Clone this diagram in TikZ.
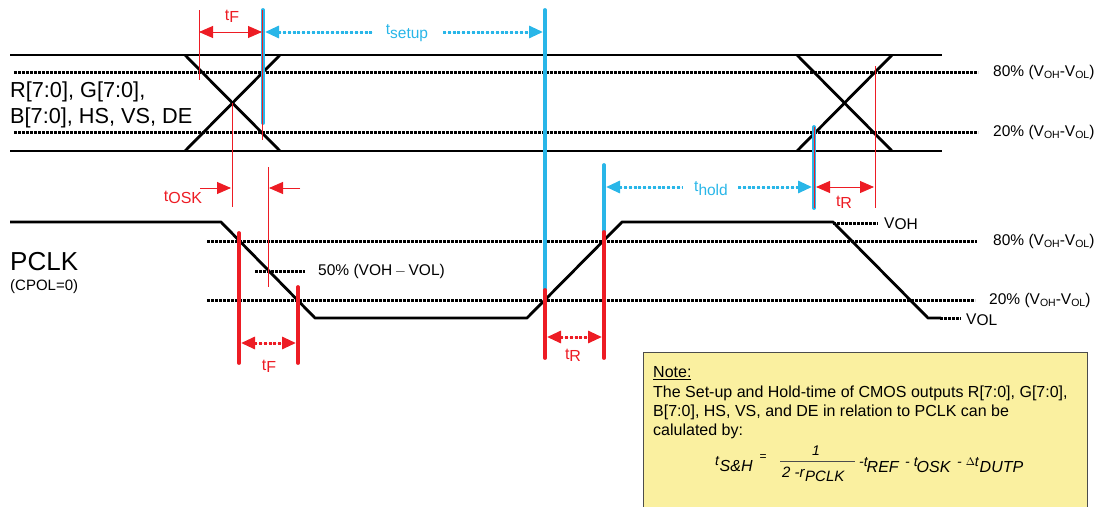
\documentclass[tikz,border=0pt]{standalone}
\usepackage{fontspec}
\setmainfont{Liberation Sans}
\usetikzlibrary{arrows.meta}
\definecolor{tred}{RGB}{237,28,36}
\definecolor{tblue}{RGB}{41,182,232}
\definecolor{noteY}{RGB}{250,240,160}
\newcommand\myfs[1]{\fontsize{#1}{#1}\selectfont}
\newcommand\lowsub[2]{\raisebox{-#1}{#2}}
\newcommand\vsub[1]{\raisebox{-0.3ex}{\myfs{10.5}#1}}
\begin{document}
\begin{tikzpicture}[x=1pt,y=-1pt,
  >={Triangle[length=14pt,width=12pt]},
  sig/.style={line width=2.8pt,line join=round},
  lvl/.style={line width=3pt,dash pattern=on 2.6pt off 1.4pt},
  rthin/.style={draw=tred,line width=0.9pt},
  rthick/.style={draw=tred,line width=3.8pt,line cap=round},
  bthick/.style={draw=tblue,line width=3.8pt,line cap=round},
  rarrow/.style={draw=tred,fill=tred,line width=0.9pt},
  rdarrow/.style={draw=tred,fill=tred,line width=3pt,dash pattern=on 3pt off 1.8pt},
  bdarrow/.style={draw=tblue,fill=tblue,line width=3pt,dash pattern=on 3pt off 1.8pt},
  rlab/.style={text=tred,font=\myfs{16},inner sep=0pt},
  blab/.style={text=tblue,font=\myfs{15.5},inner sep=0pt},
  pct/.style={font=\myfs{15.5},anchor=west,inner sep=0pt},
  lab/.style={inner sep=0pt},
  fmain/.style={inner sep=0pt,anchor=west,font=\myfs{14}\itshape},
  fsub/.style={inner sep=0pt,anchor=west,font=\myfs{16}\itshape}
]
\useasboundingbox (0,0) rectangle (1102,506);

% ---------- data bus ----------
\draw[sig] (10,55) -- (942,55);
\draw[sig] (10,151) -- (942,151);
\draw[lvl] (14,72) -- (978,72);
\draw[lvl] (14,132) -- (978,132);
\draw[sig] (185,55) -- (280,151);
\draw[sig] (185,151) -- (280,55);
\draw[sig] (797,55) -- (892,151);
\draw[sig] (797,151) -- (892,55);

\node[lab,anchor=west,font=\myfs{21.7}] (bus1) at (10,92) {R[7:0], G[7:0],};
\node[lab,anchor=west,font=\myfs{21.7}] (bus2) at (10,118) {B[7:0], HS, VS, DE};

\node[pct] (p80a) at (993,72) {80\% (V\vsub{OH}-V\vsub{OL})};
\node[pct] (p20a) at (993,132) {20\% (V\vsub{OH}-V\vsub{OL})};

% ---------- PCLK ----------
\draw[lvl] (207,241) -- (977,241);
\draw[lvl] (207,300) -- (975,300);
\draw[lvl] (255,271) -- (305,271);
\draw[lvl] (833,223) -- (878,223);
\draw[lvl] (940,318) -- (961,318);
\draw[sig] (10,222) -- (221,222) -- (315,318) -- (527,318) -- (622,222) -- (833,222) -- (928,318) -- (941,318);

\node[lab,anchor=west,font=\myfs{26}] (pclk) at (10,262) {PCLK};
\node[lab,anchor=west,font=\myfs{15}] (cpol) at (10,287) {(CPOL=0)};
\node[lab,anchor=west,font=\myfs{15.5}] (p50) at (318,271) {50\% (VOH\,$-$\,VOL)};
\node[lab,anchor=west,font=\myfs{15.5}] (voh) at (884,224) {V\lowsub{1pt}{OH}};
\node[lab,anchor=west,font=\myfs{15.5}] (vol) at (966,320) {V\lowsub{1pt}{OL}};
\node[pct] (p80b) at (993,241) {80\% (V\vsub{OH}-V\vsub{OL})};
\node[pct] (p20b) at (989,300) {20\% (V\vsub{OH}-V\vsub{OL})};

% ---------- vertical markers ----------
\draw[bthick] (263,10) -- (263,123);
\draw[rthin] (262,10) -- (262,140);
\draw[rthin] (199,10) -- (199,80);
\draw[bthick] (545,10) -- (545,290);
\draw[rthick] (545,290) -- (545,358);
\draw[bthick] (604,165) -- (604,232);
\draw[rthick] (604,232) -- (604,358);
\draw[rthick] (239,233) -- (239,363);
\draw[rthick] (298,287) -- (298,363);
\draw[rthin] (232,103) -- (232,207);
\draw[rthin] (268,167) -- (268,287);
\draw[bthick] (814,127) -- (814,208);
\draw[draw=tred,line width=0.7pt] (814,127) -- (814,208);
\draw[rthin] (875,66) -- (875,208);

% ---------- arrows ----------
\coordinate (tfa) at (199,32);  \coordinate (tfb) at (262,32);
\draw[rarrow,<->] (tfa) -- (tfb);
\node[rlab] (tf1) at (232,16) {t\lowsub{2pt}{F}};

\coordinate (tsa) at (265,32); \coordinate (tsb) at (373,32);
\coordinate (tsc) at (443,32); \coordinate (tsd) at (543,32);
\draw[bdarrow,<-] (tsa) -- (tsb);
\draw[bdarrow,->] (tsc) -- (tsd);
\node[blab] (tset) at (407,33) {t\lowsub{4pt}{setup}};

\coordinate (oa) at (200,188); \coordinate (ob) at (231,188);
\coordinate (oc) at (300,188); \coordinate (od) at (269,188);
\draw[rarrow,->] (oa) -- (ob);
\draw[rarrow,->] (oc) -- (od);
\node[rlab] (tosk) at (183,197) {t\lowsub{2pt}{OSK}};

\coordinate (fa) at (241,343); \coordinate (fb) at (296,343);
\draw[rdarrow,<->] (fa) -- (fb);
\node[rlab] (tf2) at (269,366) {t\lowsub{2pt}{F}};

\coordinate (ra) at (547,337); \coordinate (rb) at (602,337);
\draw[rdarrow,<->] (ra) -- (rb);
\node[rlab] (tr1) at (573,355) {t\lowsub{2pt}{R}};

\coordinate (ha) at (606,187); \coordinate (hb) at (683,187);
\coordinate (hc) at (738,187); \coordinate (hd) at (812,187);
\draw[bdarrow,<-] (ha) -- (hb);
\draw[bdarrow,->] (hc) -- (hd);
\node[blab] (thold) at (711,189) {t\lowsub{4pt}{hold}};

\coordinate (ua) at (816,187); \coordinate (ub) at (874,187);
\draw[rarrow,<->] (ua) -- (ub);
\node[rlab] (tr2) at (844,202) {t\lowsub{2pt}{R}};

% ---------- note ----------
\draw[fill=noteY,draw=black!70,line width=0.8pt] (643,352) rectangle (1087,512);
\begin{scope}[every node/.style={lab,anchor=west,font=\myfs{16}}]
\node (n0) at (653,373) {\underline{Note:}};
\node (n1) at (653,393) {The Set-up and Hold-time of CMOS outputs R[7:0], G[7:0],};
\node (n2) at (653,412) {B[7:0], HS, VS, and DE in relation to PCLK can be};
\node (n3) at (653,431) {calulated by:};
\end{scope}
% formula
\node[fmain] (ft) at (715,461) {t};
\node[fsub] (fsh) at (719.5,466) {S\&H};
\node[lab,font=\myfs{12}] (feq) at (763,458) {=};
\node[lab,font=\myfs{14}\itshape] (fnum) at (816,451) {1};
\draw[black!70,line width=0.7pt] (780,461) -- (855,461);
\node[fmain,font=\myfs{15}\itshape] (fden) at (782,472) {2 -r};
\node[lab,anchor=west,font=\myfs{15}\itshape] (fpclk) at (805,476) {PCLK};
\node[fmain] (fm1) at (859,462) {-t};
\node[fsub] (fref) at (866.5,467) {REF};
\node[fmain] (fm2) at (905,462) {- t};
\node[fsub] (fosk) at (916.5,467) {OSK};
\node[fmain] (fm3) at (957,462) {- \raisebox{1pt}{\upshape\myfs{11}$\Delta$}t};
\node[fsub] (fdutp) at (979.5,467) {DUTP};
\end{tikzpicture}
\end{document}
